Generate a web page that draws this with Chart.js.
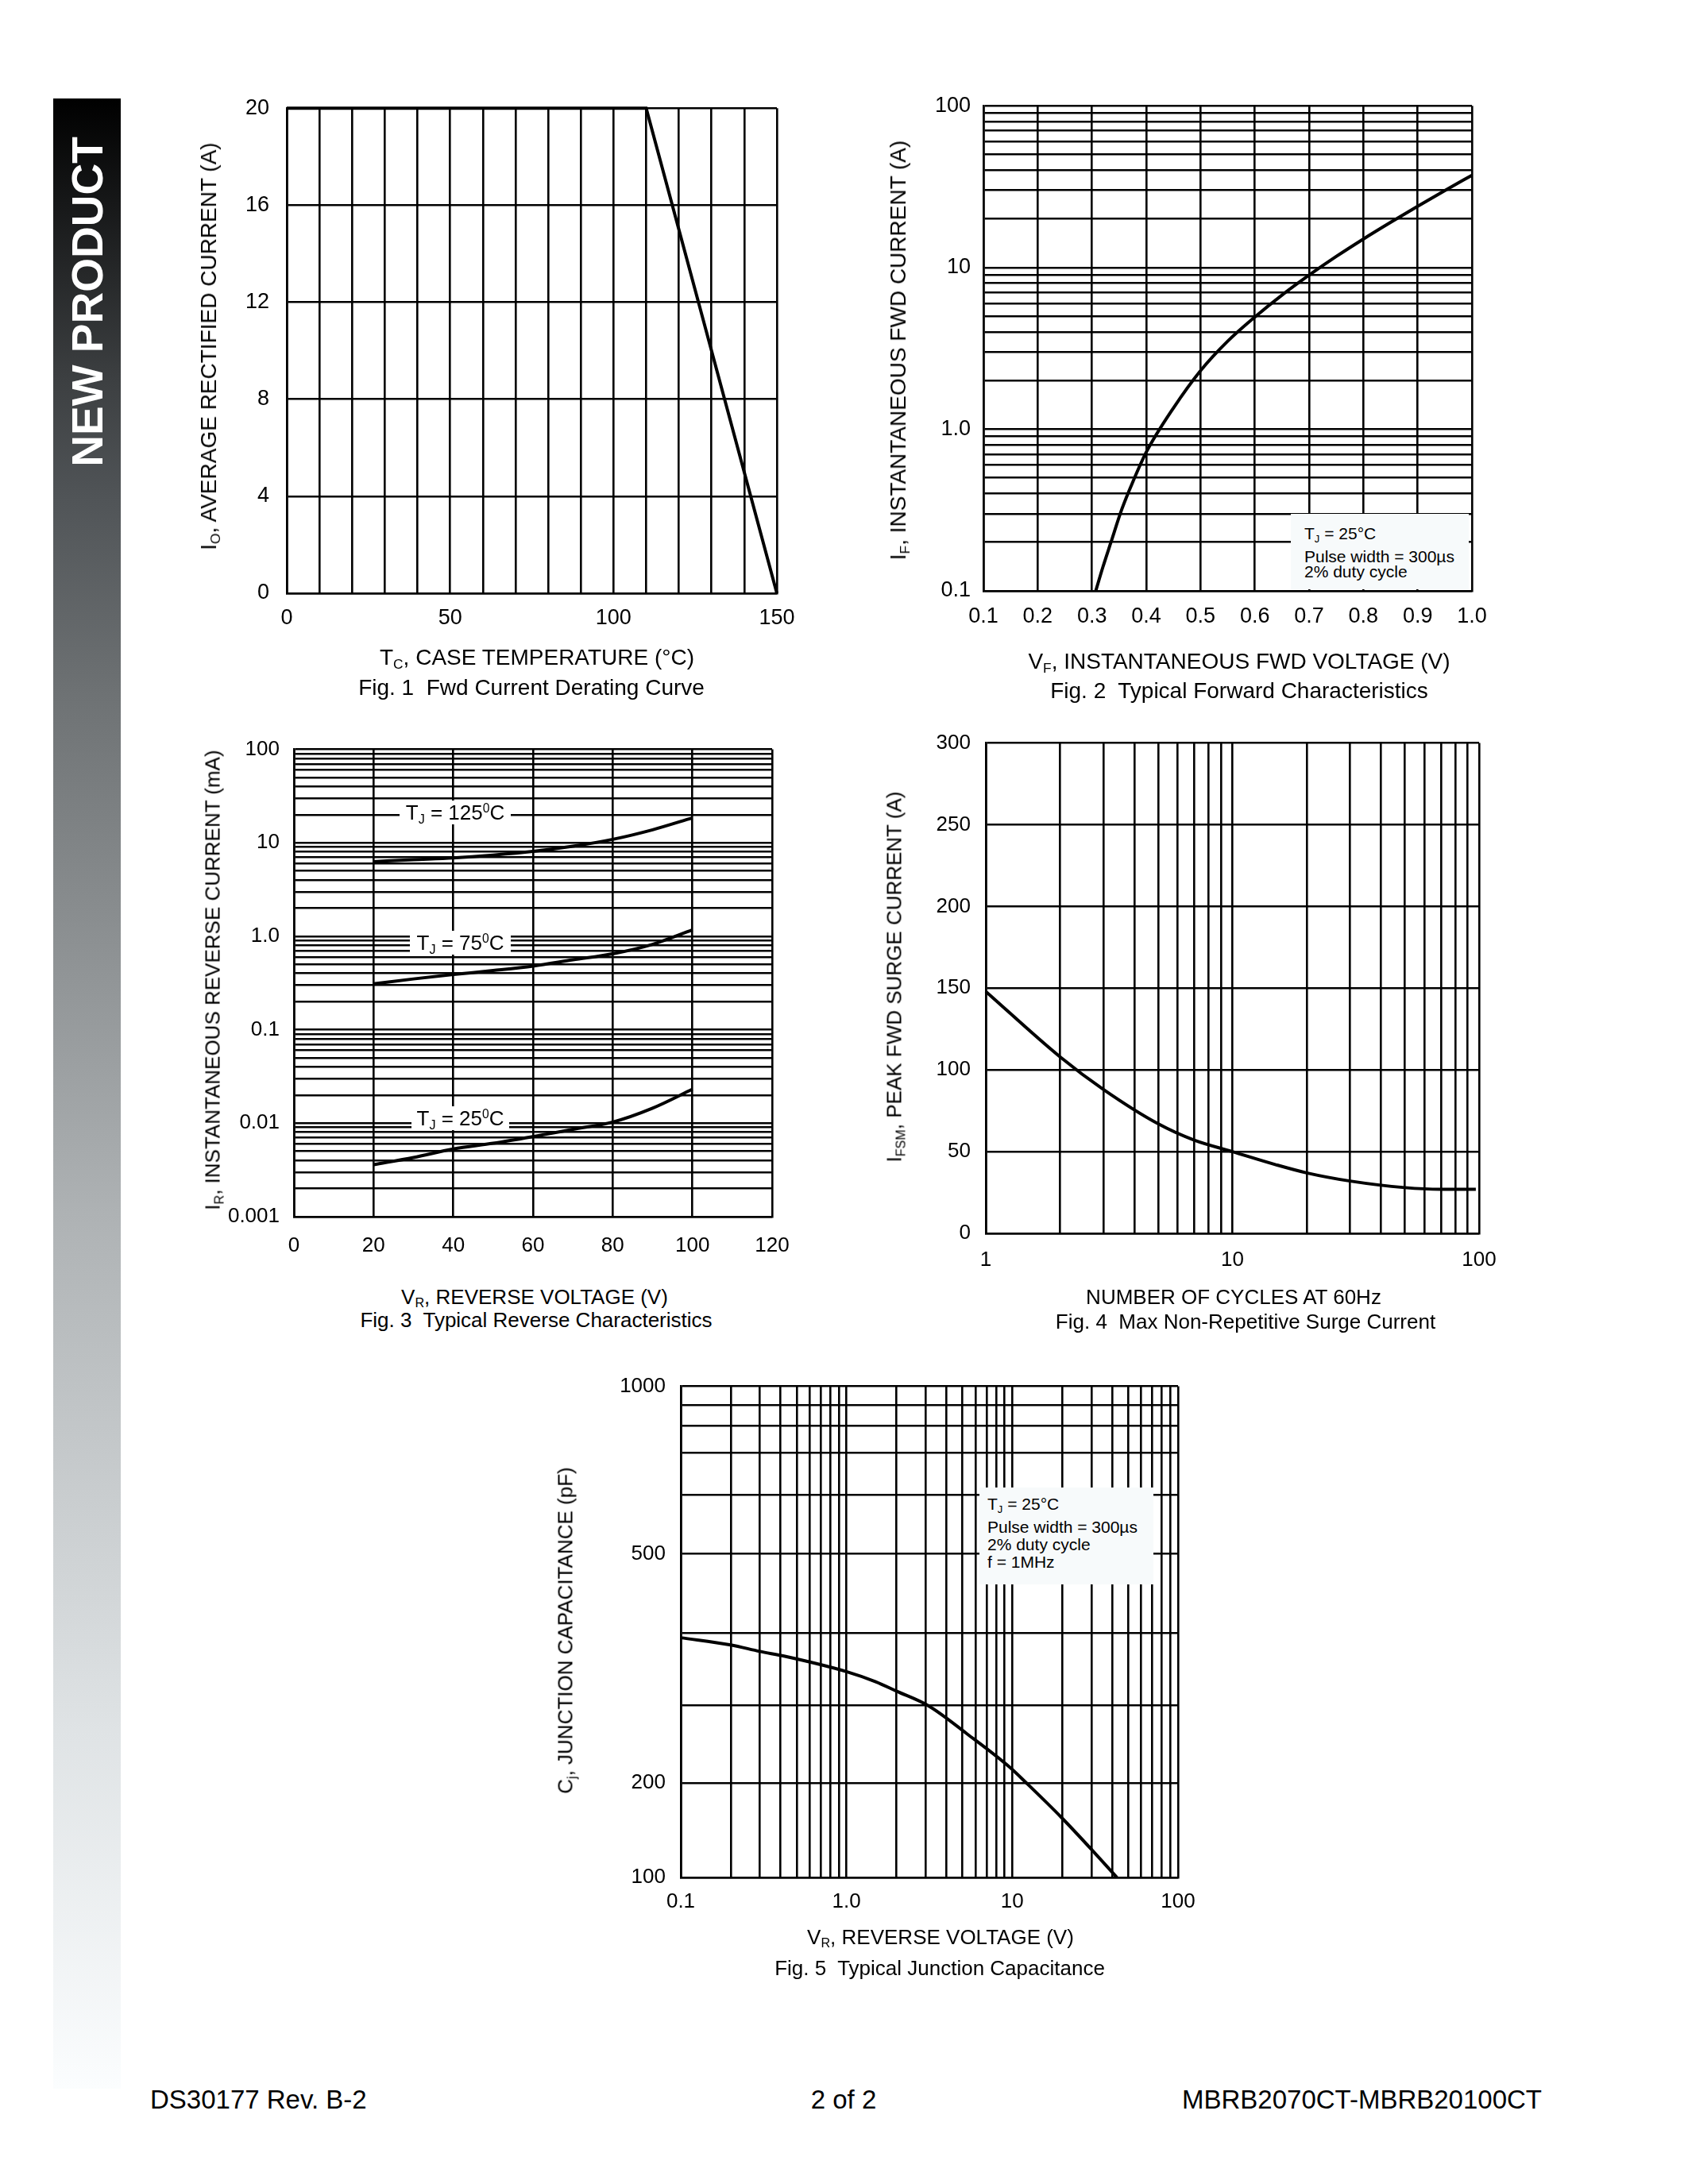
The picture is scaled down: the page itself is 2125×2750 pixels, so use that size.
<!DOCTYPE html>
<html>
<head>
<meta charset="utf-8">
<script src="https://cdn.jsdelivr.net/npm/chart.js@4.4.1/dist/chart.umd.min.js"></script>
<style>
  html, body { margin: 0; padding: 0; background: #fff; }
  body { width: 2125px; height: 2750px; position: relative; overflow: hidden;
         font-family: 'Liberation Sans', Arial, sans-serif; color: #000; }
  .t { position: absolute; white-space: nowrap; transform: translate(-50%, -50%); }
  .rot { position: absolute; white-space: nowrap; transform: translate(-50%, -50%) rotate(-90deg); }
  canvas { position: absolute; }
  sub { font-size: 0.62em; vertical-align: -0.3em; line-height: 0; }
  sup { font-size: 0.6em; vertical-align: 0.6em; line-height: 0; }
  .f1 { font-size: 28px; }
  .f2 { font-size: 26px; }
  #side { position: absolute; left: 67px; top: 124px; width: 85px; height: 2506px;
          background: linear-gradient(to bottom, #000 0%, #3c3f41 14%, #505457 20%, #6e7274 30%, #aeb2b4 56%, #dfe3e5 82%, #fbfdfe 100%); }
  #newp { position: absolute; left: 110px; top: 380px; transform: translate(-50%, -50%) rotate(-90deg);
          color: #fff; font-weight: bold; font-size: 55px; white-space: nowrap; }
  .box { position: absolute; background: #f7fafb; font-size: 21px; }
  .box div { position: absolute; left: 0; white-space: nowrap; }
  .lab { position: absolute; background: #fff; font-size: 26px; white-space: nowrap;
         display: flex; align-items: center; justify-content: center; }
  .foot { position: absolute; top: 2644px; font-size: 33px; white-space: nowrap; transform: translateY(-50%); }
</style>
</head>
<body>
<div id="side"></div>
<div id="newp">NEW PRODUCT</div>

<canvas id="fig1"></canvas>
<canvas id="fig2"></canvas>
<canvas id="fig3"></canvas>
<canvas id="fig4"></canvas>
<canvas id="fig5"></canvas>

<!-- Fig. 1 -->
<div class="rot f1" style="left:263px; top:436px;">I<sub>O</sub>, AVERAGE RECTIFIED CURRENT (A)</div>
<div class="t f1" style="left:676px; top:828px;">T<sub>C</sub>, CASE TEMPERATURE (°C)</div>
<div class="t f1" style="left:669px; top:866px;">Fig. 1&nbsp; Fwd Current Derating Curve</div>

<!-- Fig. 2 -->
<div class="rot f1" style="left:1131px; top:441px;">I<sub>F</sub>, INSTANTANEOUS FWD CURRENT (A)</div>
<div class="t f1" style="left:1560px; top:833px;">V<sub>F</sub>, INSTANTANEOUS FWD VOLTAGE (V)</div>
<div class="t f1" style="left:1560px; top:870px;">Fig. 2&nbsp; Typical Forward Characteristics</div>
<div class="box" style="left:1625px; top:647px; width:224px; height:95px;">
  <div style="left:17px; top:13px;">T<sub>J</sub> = 25°C</div>
  <div style="left:17px; top:42px;">Pulse width = 300µs</div>
  <div style="left:17px; top:61px;">2% duty cycle</div>
</div>

<!-- Fig. 3 -->
<div class="rot f2" style="left:268px; top:1234px;">I<sub>R</sub>, INSTANTANEOUS REVERSE CURRENT (mA)</div>
<div class="t f2" style="left:673px; top:1633px;">V<sub>R</sub>, REVERSE VOLTAGE (V)</div>
<div class="t f2" style="left:675px; top:1662px;">Fig. 3&nbsp; Typical Reverse Characteristics</div>
<div class="lab" style="left:503px; top:1008px; width:140px; height:30px;"><span>T<sub>J</sub> = 125<sup>0</sup>C</span></div>
<div class="lab" style="left:516px; top:1172px; width:127px; height:30px;"><span>T<sub>J</sub> = 75<sup>0</sup>C</span></div>
<div class="lab" style="left:518px; top:1393px; width:123px; height:30px;"><span>T<sub>J</sub> = 25<sup>0</sup>C</span></div>

<!-- Fig. 4 -->
<div class="rot f2" style="left:1126px; top:1230px;">I<sub>FSM</sub>, PEAK FWD SURGE CURRENT (A)</div>
<div class="t f2" style="left:1553px; top:1633px;">NUMBER OF CYCLES AT 60Hz</div>
<div class="t f2" style="left:1568px; top:1664px;">Fig. 4&nbsp; Max Non-Repetitive Surge Current</div>

<!-- Fig. 5 -->
<div class="rot f2" style="left:712px; top:2053px;">C<sub>j</sub>, JUNCTION CAPACITANCE (pF)</div>
<div class="t f2" style="left:1184px; top:2439px;">V<sub>R</sub>, REVERSE VOLTAGE (V)</div>
<div class="t f2" style="left:1183px; top:2478px;">Fig. 5&nbsp; Typical Junction Capacitance</div>
<div class="box" style="left:1233px; top:1873px; width:219px; height:122px;">
  <div style="left:10px; top:9px;">T<sub>J</sub> = 25°C</div>
  <div style="left:10px; top:38px;">Pulse width = 300µs</div>
  <div style="left:10px; top:60px;">2% duty cycle</div>
  <div style="left:10px; top:82px;">f = 1MHz</div>
</div>

<div class="foot" style="left:189px;">DS30177 Rev. B-2</div>
<div class="foot" style="left:1062px; transform:translate(-50%,-50%);">2 of 2</div>
<div class="foot" style="right:184px;">MBRB2070CT-MBRB20100CT</div>

<script>
// ---- Fig. 1: derating curve
const fig1Temp = [0, 110, 150];
const fig1Current = [20, 20, 0];
const fig1XTicks = [0, 50, 100, 150];
const fig1XLabels = ['0', '50', '100', '150'];
const fig1YTicks = [0, 4, 8, 12, 16, 20];
const fig1YLabels = ['0', '4', '8', '12', '16', '20'];

// ---- Fig. 2: forward characteristics
const fig2Vf = [0.307, 0.32, 0.335, 0.355, 0.375, 0.40, 0.45, 0.50, 0.55, 0.60, 0.65, 0.70, 0.75, 0.80, 0.85, 0.90, 0.95, 1.0];
const fig2If = [0.1, 0.14, 0.2, 0.32, 0.47, 0.72, 1.35, 2.3, 3.5, 4.94, 6.75, 8.97, 11.7, 15.0, 19.0, 23.9, 29.9, 37.2];
const fig2XTicks = [0.1, 0.2, 0.3, 0.4, 0.5, 0.6, 0.7, 0.8, 0.9, 1.0];
const fig2XLabels = ['0.1', '0.2', '0.3', '0.4', '0.5', '0.6', '0.7', '0.8', '0.9', '1.0'];
const fig2YTicks = [0.1, 1, 10, 100];
const fig2YLabels = ['0.1', '1.0', '10', '100'];

// ---- Fig. 3: reverse characteristics
const fig3Vr = [20, 30, 40, 50, 60, 70, 80, 90, 100];
const fig3Ir125 = [6.3, 6.6, 6.9, 7.4, 8.1, 9.2, 10.9, 13.8, 18.5];
const fig3Ir75 = [0.31, 0.35, 0.39, 0.43, 0.48, 0.56, 0.65, 0.82, 1.17];
const fig3Ir25 = [0.0036, 0.0043, 0.0053, 0.0061, 0.0072, 0.0086, 0.0103, 0.0145, 0.0231];
const fig3XTicks = [0, 20, 40, 60, 80, 100, 120];
const fig3XLabels = ['0', '20', '40', '60', '80', '100', '120'];
const fig3YTicks = [0.001, 0.01, 0.1, 1, 10, 100];
const fig3YLabels = ['0.001', '0.01', '0.1', '1.0', '10', '100'];

// ---- Fig. 4: surge current
const fig4Cycles = [1, 2, 3, 5, 7, 10, 15, 20, 30, 50, 70, 97];
const fig4Ifsm = [148, 108, 88, 67, 57, 50, 42, 37, 32, 28, 27, 27];
const fig4XTicks = [1, 10, 100];
const fig4XLabels = ['1', '10', '100'];
const fig4YTicks = [0, 50, 100, 150, 200, 250, 300];
const fig4YLabels = ['0', '50', '100', '150', '200', '250', '300'];

// ---- Fig. 5: junction capacitance
const fig5Vr = [0.1, 0.2, 0.3, 0.43, 1.0, 1.5, 2.0, 3.1, 5.3, 9.6, 12.2, 19.7, 31.8, 42.8];
const fig5Cj = [394, 384, 375, 368, 347, 333, 320, 300, 264, 221, 200, 164, 125, 100];
const fig5XTicks = [0.1, 1, 10, 100];
const fig5XLabels = ['0.1', '1.0', '10', '100'];
const fig5YTicks = [100, 200, 500, 1000];
const fig5YLabels = ['100', '200', '500', '1000'];
// the printed pF grid is not evenly logarithmic: depth of each line below the top
const fig5GridPF = [100, 200, 300, 400, 500, 600, 700, 800, 900, 1000];
const fig5GridDepth = [1, 0.808, 0.650, 0.503, 0.341, 0.221, 0.135, 0.080, 0.038, 0];

function linGrid(lo, hi, step) {
  const out = [];
  const n = Math.round((hi - lo) / step);
  for (let i = 0; i <= n; i++) out.push(+(lo + i * step).toFixed(6));
  return out;
}
function logGrid(lo, hi) {
  const out = [];
  for (let e = Math.floor(Math.log10(lo) + 1e-9); e < Math.log10(hi) - 1e-9; e++) {
    for (let m = 1; m < 10; m++) {
      const v = +(m * Math.pow(10, e)).toPrecision(6);
      if (v >= lo - 1e-12 && v <= hi) out.push(v);
    }
  }
  out.push(hi);
  return out;
}
function labeler(vals, texts) {
  return v => {
    const i = vals.findIndex(t => Math.abs(t - v) <= 1e-6 * Math.max(Math.abs(t), 1e-9));
    return i < 0 ? '' : texts[i];
  };
}

// scale that follows the uneven printed grid of fig. 5
class WarpScale extends Chart.LinearScale {
  getPixelForValue(value) {
    if (value === null || value === undefined || isNaN(value)) return NaN;
    let d = 0;
    if (value <= fig5GridPF[0]) d = fig5GridDepth[0];
    else if (value >= fig5GridPF[fig5GridPF.length - 1]) d = fig5GridDepth[fig5GridDepth.length - 1];
    else {
      for (let i = 0; i < fig5GridPF.length - 1; i++) {
        if (value >= fig5GridPF[i] && value <= fig5GridPF[i + 1]) {
          const f = (value - fig5GridPF[i]) / (fig5GridPF[i + 1] - fig5GridPF[i]);
          d = fig5GridDepth[i] + f * (fig5GridDepth[i + 1] - fig5GridDepth[i]);
          break;
        }
      }
    }
    return this.getPixelForDecimal(1 - d);
  }
}
WarpScale.id = 'warp';
WarpScale.defaults = Chart.LinearScale.defaults;
Chart.register(WarpScale);

Chart.defaults.font.family = 'Liberation Sans';
Chart.defaults.color = '#000';

function axisOpts(s, isX, size) {
  const lab = labeler(s.tickVals, s.tickText);
  return {
    type: s.type, min: s.min, max: s.max, position: isX ? 'bottom' : 'left',
    grid: { color: '#000', lineWidth: 2.6, drawTicks: false },
    border: { display: true, color: '#000', width: 2.6 },
    ticks: {
      autoSkip: false, maxRotation: 0, minRotation: 0, padding: s.pad, color: '#000',
      font: { family: 'Liberation Sans', size: s.font },
      callback: v => lab(v)
    },
    afterBuildTicks: sc => { sc.ticks = s.grid.map(v => ({ value: v })); },
    afterFit: sc => { if (isX) sc.height = size; else sc.width = size; }
  };
}

function pts(xs, ys) { return xs.map((x, i) => ({ x: x, y: ys[i] })); }

function curve(xs, ys, smooth) {
  return {
    data: pts(xs, ys), borderColor: '#000', borderWidth: 4, pointRadius: 0,
    fill: false, clip: false, tension: 0,
    cubicInterpolationMode: smooth ? 'monotone' : 'default'
  };
}

function buildChart(id, area, xs, ys, datasets) {
  const padL = 10, padT = 30, padR = 50, padB = 10, yW = 130, xH = 70;
  const cv = document.getElementById(id);
  cv.width = padL + yW + (area.r - area.l) + padR;
  cv.height = padT + (area.b - area.t) + xH + padB;
  cv.style.left = (area.l - yW - padL) + 'px';
  cv.style.top = (area.t - padT) + 'px';
  return new Chart(cv, {
    type: 'line',
    data: { datasets: datasets },
    options: {
      responsive: false, animation: false, events: [],
      layout: { padding: { left: padL, top: padT, right: padR, bottom: padB } },
      plugins: { legend: { display: false }, tooltip: { enabled: false } },
      scales: { x: axisOpts(xs, true, xH), y: axisOpts(ys, false, yW) }
    }
  });
}

buildChart('fig1', { l: 361, r: 978, t: 128, b: 747 },
  { type: 'linear', min: 0, max: 150, grid: linGrid(0, 150, 10), tickVals: fig1XTicks, tickText: fig1XLabels, pad: 15, font: 27 },
  { type: 'linear', min: 0, max: 20, grid: linGrid(0, 20, 4), tickVals: fig1YTicks, tickText: fig1YLabels, pad: 22, font: 27 },
  [curve(fig1Temp, fig1Current, false)]);

buildChart('fig2', { l: 1238, r: 1853, t: 131, b: 744 },
  { type: 'linear', min: 0.1, max: 1.0, grid: linGrid(0.1, 1.0, 0.1), tickVals: fig2XTicks, tickText: fig2XLabels, pad: 16, font: 27 },
  { type: 'logarithmic', min: 0.1, max: 100, grid: logGrid(0.1, 100), tickVals: fig2YTicks, tickText: fig2YLabels, pad: 16, font: 27 },
  [curve(fig2Vf, fig2If, true)]);

buildChart('fig3', { l: 370, r: 972, t: 940, b: 1532 },
  { type: 'linear', min: 0, max: 120, grid: linGrid(0, 120, 20), tickVals: fig3XTicks, tickText: fig3XLabels, pad: 21, font: 26 },
  { type: 'logarithmic', min: 0.001, max: 100, grid: logGrid(0.001, 100), tickVals: fig3YTicks, tickText: fig3YLabels, pad: 18, font: 26 },
  [curve(fig3Vr, fig3Ir125, true), curve(fig3Vr, fig3Ir75, true), curve(fig3Vr, fig3Ir25, true)]);

buildChart('fig4', { l: 1241, r: 1862, t: 931, b: 1553 },
  { type: 'logarithmic', min: 1, max: 100, grid: logGrid(1, 100), tickVals: fig4XTicks, tickText: fig4XLabels, pad: 18, font: 26 },
  { type: 'linear', min: 0, max: 300, grid: linGrid(0, 300, 50), tickVals: fig4YTicks, tickText: fig4YLabels, pad: 19, font: 26 },
  [curve(fig4Cycles, fig4Ifsm, true)]);

buildChart('fig5', { l: 857, r: 1483, t: 1741, b: 2364 },
  { type: 'logarithmic', min: 0.1, max: 100, grid: logGrid(0.1, 100), tickVals: fig5XTicks, tickText: fig5XLabels, pad: 15, font: 26 },
  { type: 'warp', min: 100, max: 1000, grid: fig5GridPF, tickVals: fig5YTicks, tickText: fig5YLabels, pad: 19, font: 26 },
  [curve(fig5Vr, fig5Cj, true)]);
</script>
</body>
</html>
